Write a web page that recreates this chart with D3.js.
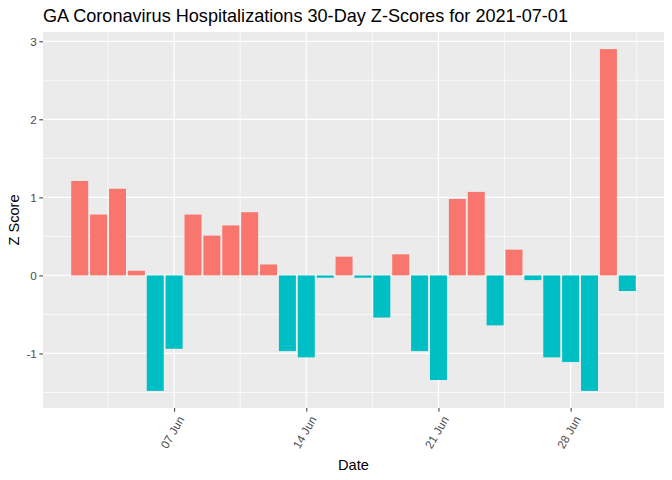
<!DOCTYPE html>
<html>
<head>
<meta charset="utf-8">
<script src="https://cdn.jsdelivr.net/npm/d3@7"></script>
<style>
  html, body { margin: 0; padding: 0; background: #fff; }
  svg text { font-family: "Liberation Sans", Arial, sans-serif; }
</style>
</head>
<body>
<svg id="chart" width="672" height="480"></svg>
<script>
// ---- Data ----
const dates = [
  "2021-06-02","2021-06-03","2021-06-04","2021-06-05","2021-06-06","2021-06-07",
  "2021-06-08","2021-06-09","2021-06-10","2021-06-11","2021-06-12","2021-06-13",
  "2021-06-14","2021-06-15","2021-06-16","2021-06-17","2021-06-18","2021-06-19",
  "2021-06-20","2021-06-21","2021-06-22","2021-06-23","2021-06-24","2021-06-25",
  "2021-06-26","2021-06-27","2021-06-28","2021-06-29","2021-06-30","2021-07-01"
];
const zScores = [
  1.21, 0.78, 1.11, 0.06, -1.48, -0.94,
  0.78, 0.51, 0.64, 0.81, 0.14, -0.97,
  -1.05, -0.03, 0.24, -0.03, -0.54, 0.27,
  -0.97, -1.34, 0.98, 1.07, -0.64, 0.33,
  -0.06, -1.05, -1.11, -1.48, 2.90, -0.20
];
const yTicks = [-1, 0, 1, 2, 3];
const yTickLabels = ["-1", "0", "1", "2", "3"];
const yMinor = [-1.5, -0.5, 0.5, 1.5, 2.5];
const xTickDates = ["2021-06-07","2021-06-14","2021-06-21","2021-06-28"];
const xTickLabels = ["07 Jun","14 Jun","21 Jun","28 Jun"];
const xMinorDates = ["2021-06-03T12:00:00Z","2021-06-10T12:00:00Z","2021-06-17T12:00:00Z","2021-06-24T12:00:00Z","2021-07-01T12:00:00Z"];
const title = "GA Coronavirus Hospitalizations 30-Day Z-Scores for 2021-07-01";
const xTitle = "Date";
const yTitle = "Z Score";
const posColor = "#F8766D", negColor = "#00BFC4";

// ---- Layout ----
const svg = d3.select("#chart");
const panel = {left: 43, right: 664, top: 32, bottom: 408};
const DAY = 864e5;
const parse = s => new Date(s.length > 10 ? s : s + "T00:00:00Z");
const data = dates.map((d, i) => ({date: parse(d), value: zScores[i]}));

const dMin = d3.min(data, d => +d.date) - 0.45 * DAY;
const dMax = d3.max(data, d => +d.date) + 0.45 * DAY;
const dExp = (dMax - dMin) * 0.05;
const x = d3.scaleUtc().domain([dMin - dExp, dMax + dExp]).range([panel.left, panel.right]);

const vMin = d3.min(zScores), vMax = d3.max(zScores);
const vExp = (vMax - vMin) * 0.05;
const y = d3.scaleLinear().domain([vMin - vExp, vMax + vExp]).range([panel.bottom, panel.top]);

// panel background
svg.append("rect")
  .attr("x", panel.left).attr("y", panel.top)
  .attr("width", panel.right - panel.left).attr("height", panel.bottom - panel.top)
  .attr("fill", "#EBEBEB");

const grid = svg.append("g");
// minor grid
grid.selectAll(".hmin").data(yMinor).enter().append("line")
  .attr("x1", panel.left).attr("x2", panel.right)
  .attr("y1", d => y(d)).attr("y2", d => y(d))
  .attr("stroke", "#fff").attr("stroke-width", 0.7);
grid.selectAll(".vmin").data(xMinorDates.map(parse)).enter().append("line")
  .attr("y1", panel.top).attr("y2", panel.bottom)
  .attr("x1", d => x(d)).attr("x2", d => x(d))
  .attr("stroke", "#fff").attr("stroke-width", 0.7);
// major grid
grid.selectAll(".hmaj").data(yTicks).enter().append("line")
  .attr("x1", panel.left).attr("x2", panel.right)
  .attr("y1", d => y(d)).attr("y2", d => y(d))
  .attr("stroke", "#fff").attr("stroke-width", 1.3);
grid.selectAll(".vmaj").data(xTickDates.map(parse)).enter().append("line")
  .attr("y1", panel.top).attr("y2", panel.bottom)
  .attr("x1", d => x(d)).attr("x2", d => x(d))
  .attr("stroke", "#fff").attr("stroke-width", 1.3);

// bars
const barW = x(new Date(0.9 * DAY)) - x(new Date(0));
svg.append("g").selectAll("rect").data(data).enter().append("rect")
  .attr("x", d => x(d.date) - barW / 2)
  .attr("width", barW)
  .attr("y", d => y(Math.max(0, d.value)))
  .attr("height", d => Math.abs(y(d.value) - y(0)))
  .attr("fill", d => d.value >= 0 ? posColor : negColor);

// y axis
const yAxis = d3.axisLeft(y).tickValues(yTicks).tickSize(3.7).tickPadding(2.5)
  .tickFormat((d, i) => yTickLabels[i]);
const gy = svg.append("g").attr("transform", `translate(${panel.left},0)`).call(yAxis);
gy.select(".domain").remove();
gy.selectAll(".tick line").attr("stroke", "#333333").attr("stroke-width", 1);
gy.selectAll(".tick text").attr("fill", "#4D4D4D").style("font-size", "11.7px")
  .style("font-family", "'Liberation Sans', Arial, sans-serif");

// x axis
const xAxis = d3.axisBottom(x).tickValues(xTickDates.map(parse)).tickSize(3.7)
  .tickFormat((d, i) => xTickLabels[i]);
const gx = svg.append("g").attr("transform", `translate(0,${panel.bottom})`).call(xAxis);
gx.select(".domain").remove();
gx.selectAll(".tick line").attr("stroke", "#333333").attr("stroke-width", 1);
gx.selectAll(".tick text")
  .attr("fill", "#4D4D4D").style("font-size", "11.7px")
  .style("font-family", "'Liberation Sans', Arial, sans-serif")
  .attr("text-anchor", "end")
  .attr("x", 0).attr("y", 0).attr("dy", "0.71em")
  .attr("transform", "translate(3,7) rotate(-60)");

// titles
svg.append("text").attr("x", panel.left).attr("y", 22)
  .attr("fill", "#000").style("font-size", "18.1px").text(title);
svg.append("text").attr("x", (panel.left + panel.right) / 2).attr("y", 470)
  .attr("text-anchor", "middle").attr("fill", "#000").style("font-size", "14.6px").text(xTitle);
svg.append("text")
  .attr("transform", `translate(19,${(panel.top + panel.bottom) / 2}) rotate(-90)`)
  .attr("text-anchor", "middle").attr("fill", "#000").style("font-size", "14.6px").text(yTitle);
</script>
</body>
</html>
